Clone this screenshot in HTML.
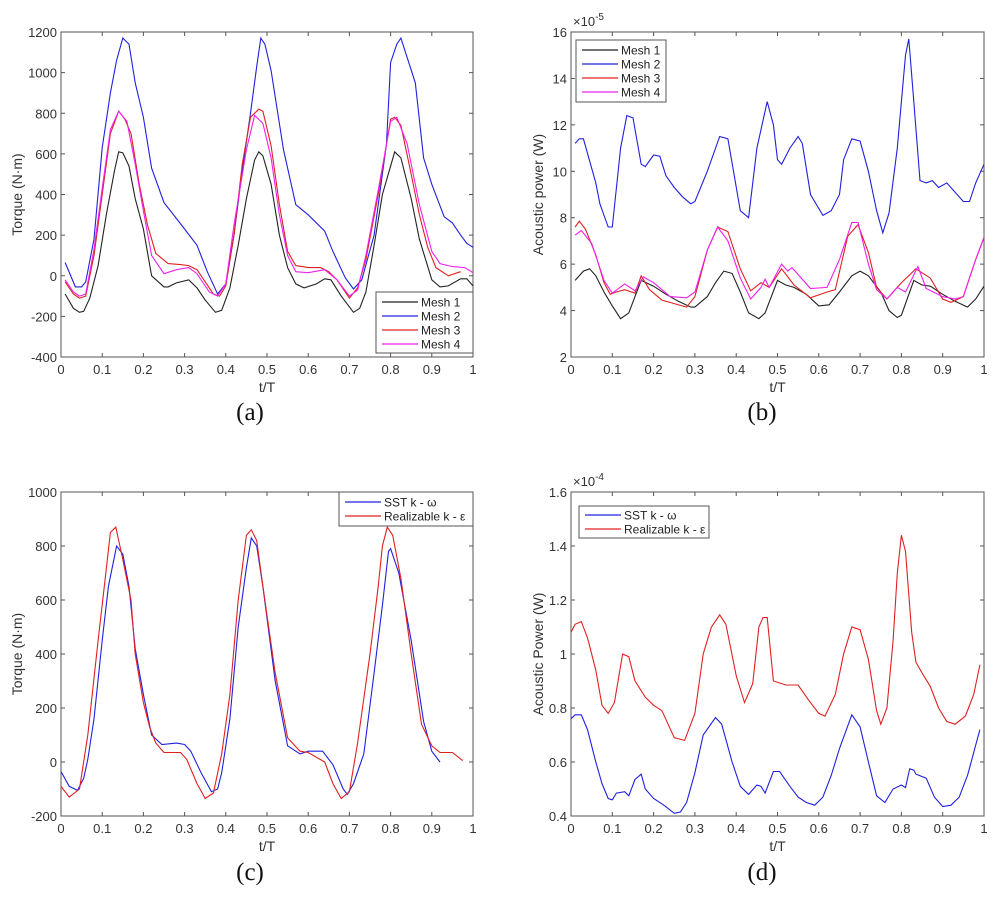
<!DOCTYPE html>
<html><head><meta charset="utf-8"><style>
html,body{margin:0;padding:0;background:#fff;}
svg{display:block;font-family:"Liberation Sans",sans-serif;}
</style></head><body>
<svg id="fig" width="996" height="900" viewBox="0 0 996 900"></svg>
<script>
// ---- data (a) torque, mesh study ----
const aX1=[0.01,0.03,0.045,0.055,0.07,0.09,0.11,0.13,0.14,0.15,0.165,0.18,0.2,0.22,0.25,0.26,0.28,0.31,0.33,0.35,0.375,0.39,0.41,0.43,0.45,0.47,0.48,0.49,0.51,0.53,0.55,0.57,0.59,0.62,0.64,0.655,0.68,0.71,0.725,0.74,0.76,0.78,0.81,0.825,0.85,0.87,0.9,0.92,0.94,0.97,0.985,1.0];
const aY1=[-90,-160,-180,-175,-110,50,300,520,610,605,540,380,230,0,-55,-55,-35,-20,-60,-120,-180,-170,-60,150,380,570,610,590,450,200,40,-40,-60,-40,-15,-20,-100,-180,-160,-80,150,400,610,580,380,180,-20,-55,-50,-15,-15,-50];
const aX2=[0.01,0.035,0.05,0.06,0.08,0.1,0.12,0.135,0.15,0.165,0.18,0.2,0.22,0.25,0.3,0.33,0.355,0.38,0.4,0.42,0.44,0.46,0.475,0.485,0.495,0.51,0.54,0.57,0.6,0.64,0.66,0.69,0.71,0.73,0.76,0.79,0.8,0.815,0.825,0.86,0.88,0.9,0.93,0.95,0.97,0.985,1.0];
const aY2=[65,-55,-55,-30,180,630,900,1060,1170,1140,950,780,530,360,230,150,20,-90,-40,200,520,800,1030,1170,1140,1010,620,350,300,220,120,-10,-65,-20,200,650,1050,1140,1170,950,580,450,290,260,200,160,140];
const aX3=[0.01,0.03,0.045,0.06,0.08,0.1,0.12,0.14,0.155,0.17,0.19,0.21,0.23,0.26,0.29,0.31,0.33,0.35,0.37,0.385,0.4,0.42,0.44,0.46,0.48,0.49,0.51,0.53,0.55,0.57,0.6,0.63,0.65,0.67,0.7,0.72,0.74,0.77,0.8,0.81,0.825,0.85,0.87,0.89,0.91,0.94,0.97];
const aY3=[-30,-90,-110,-100,100,400,700,810,770,700,450,250,110,60,55,50,30,-30,-90,-100,-50,200,550,780,820,810,640,350,120,50,40,40,20,-20,-110,-60,80,400,770,780,740,500,300,140,40,0,20];
const aX4=[0.01,0.03,0.045,0.06,0.08,0.1,0.12,0.14,0.16,0.18,0.2,0.22,0.25,0.28,0.31,0.33,0.36,0.38,0.4,0.42,0.45,0.47,0.49,0.51,0.53,0.55,0.57,0.6,0.64,0.67,0.7,0.72,0.74,0.77,0.8,0.815,0.84,0.87,0.9,0.92,0.95,0.98,1.0];
const aY4=[-20,-80,-100,-90,130,430,720,810,760,550,320,100,10,30,40,10,-80,-100,-40,250,620,790,750,580,300,100,20,15,30,-20,-100,-70,100,420,760,780,650,350,120,60,45,40,15];
// ---- data (b) acoustic power, mesh study (x1e-5) ----
const bX1=[0.01,0.03,0.045,0.06,0.08,0.1,0.12,0.14,0.155,0.17,0.2,0.23,0.26,0.29,0.3,0.33,0.35,0.37,0.39,0.41,0.43,0.455,0.47,0.5,0.52,0.54,0.57,0.6,0.625,0.65,0.68,0.7,0.72,0.75,0.77,0.79,0.8,0.83,0.85,0.87,0.9,0.93,0.96,0.98,1.0];
const bY1=[5.3,5.7,5.8,5.5,4.8,4.2,3.65,3.9,4.6,5.3,5.05,4.7,4.4,4.15,4.15,4.6,5.2,5.7,5.6,4.8,3.9,3.65,3.9,5.3,5.1,5.0,4.7,4.2,4.25,4.8,5.5,5.7,5.5,4.8,4.0,3.7,3.8,5.3,5.1,5.05,4.7,4.4,4.15,4.5,5.05];
const bX2=[0.01,0.02,0.03,0.06,0.07,0.09,0.1,0.12,0.135,0.15,0.17,0.18,0.2,0.215,0.23,0.25,0.27,0.29,0.3,0.33,0.36,0.38,0.41,0.43,0.45,0.475,0.49,0.5,0.51,0.53,0.55,0.56,0.58,0.61,0.63,0.65,0.66,0.68,0.7,0.72,0.74,0.755,0.77,0.79,0.81,0.818,0.83,0.845,0.86,0.875,0.89,0.91,0.93,0.95,0.965,0.98,1.0];
const bY2=[11.2,11.4,11.4,9.5,8.6,7.6,7.6,11.0,12.4,12.3,10.3,10.2,10.7,10.65,9.8,9.3,8.9,8.6,8.7,10.0,11.5,11.4,8.3,8.0,11.0,13.0,12.0,10.5,10.3,11.0,11.5,11.2,9.0,8.1,8.3,9.0,10.5,11.4,11.3,10.0,8.3,7.35,8.2,11.0,15.0,15.7,13.0,9.6,9.5,9.6,9.3,9.5,9.1,8.7,8.7,9.5,10.3];
const bX3=[0.01,0.02,0.035,0.06,0.08,0.095,0.11,0.13,0.155,0.17,0.19,0.22,0.25,0.28,0.3,0.33,0.355,0.38,0.41,0.435,0.46,0.48,0.51,0.54,0.58,0.62,0.64,0.67,0.695,0.72,0.74,0.765,0.8,0.835,0.87,0.9,0.92,0.95,0.98,1.0];
const bY3=[7.6,7.85,7.5,6.4,5.2,4.7,4.8,4.9,4.75,5.5,4.9,4.45,4.3,4.15,4.6,6.6,7.6,7.4,5.8,4.85,5.2,5.0,5.8,5.1,4.55,4.8,4.9,7.2,7.7,6.5,5.0,4.5,5.2,5.8,5.4,4.5,4.35,4.6,6.2,7.15];
const bX4=[0.01,0.025,0.05,0.08,0.1,0.13,0.155,0.175,0.2,0.24,0.28,0.3,0.33,0.355,0.38,0.41,0.435,0.46,0.47,0.48,0.51,0.525,0.535,0.58,0.62,0.65,0.68,0.695,0.72,0.74,0.765,0.79,0.81,0.84,0.86,0.9,0.93,0.95,0.98,1.0];
const bY4=[7.25,7.45,6.9,5.3,4.75,5.15,4.85,5.45,5.2,4.6,4.55,4.8,6.6,7.6,7.0,5.4,4.5,5.0,5.35,5.0,6.0,5.7,5.85,4.95,5.0,6.2,7.8,7.8,6.0,4.9,4.5,5.0,4.8,5.9,4.95,4.6,4.5,4.6,6.2,7.15];
// ---- data (c) torque, turbulence models ----
const cX1=[0.0,0.02,0.04,0.055,0.065,0.08,0.1,0.115,0.135,0.15,0.165,0.18,0.2,0.22,0.245,0.28,0.3,0.315,0.34,0.365,0.38,0.39,0.41,0.43,0.45,0.462,0.475,0.49,0.52,0.55,0.58,0.6,0.635,0.66,0.685,0.695,0.71,0.735,0.76,0.78,0.795,0.8,0.82,0.85,0.88,0.9,0.92];
const cY1=[-35,-90,-105,-60,10,160,450,650,800,770,650,420,250,100,65,70,65,40,-40,-110,-100,-40,160,500,720,830,800,650,300,60,30,40,40,-10,-100,-120,-80,30,330,580,780,790,700,450,150,40,0];
const cX2=[0.0,0.02,0.045,0.065,0.09,0.105,0.12,0.133,0.15,0.17,0.18,0.2,0.215,0.23,0.25,0.29,0.305,0.33,0.35,0.37,0.39,0.41,0.43,0.45,0.462,0.475,0.49,0.52,0.55,0.58,0.6,0.64,0.66,0.68,0.7,0.72,0.75,0.77,0.78,0.792,0.805,0.825,0.85,0.875,0.9,0.92,0.95,0.975];
const cY2=[-90,-130,-100,100,450,650,850,870,750,600,400,220,130,70,35,35,10,-80,-135,-115,30,250,600,840,860,820,650,330,90,40,35,0,-80,-135,-110,70,400,650,800,870,840,680,400,140,60,35,35,5];
// ---- data (d) acoustic power, turbulence models (x1e-4) ----
const dX1=[0.0,0.01,0.025,0.04,0.06,0.075,0.09,0.1,0.11,0.13,0.14,0.155,0.17,0.18,0.2,0.225,0.25,0.265,0.28,0.3,0.32,0.35,0.365,0.39,0.41,0.43,0.45,0.46,0.47,0.49,0.505,0.53,0.55,0.57,0.59,0.61,0.63,0.65,0.68,0.7,0.72,0.74,0.76,0.78,0.8,0.81,0.82,0.83,0.835,0.86,0.88,0.9,0.92,0.94,0.96,0.99];
const dY1=[0.76,0.775,0.775,0.72,0.6,0.52,0.465,0.46,0.485,0.49,0.475,0.535,0.555,0.5,0.465,0.44,0.41,0.415,0.45,0.56,0.7,0.765,0.74,0.6,0.51,0.48,0.515,0.51,0.485,0.565,0.565,0.51,0.47,0.45,0.44,0.47,0.55,0.65,0.775,0.73,0.6,0.475,0.45,0.5,0.515,0.505,0.575,0.57,0.555,0.54,0.47,0.435,0.44,0.47,0.55,0.72];
const dX2=[0.0,0.01,0.025,0.04,0.06,0.075,0.09,0.105,0.125,0.14,0.155,0.18,0.2,0.22,0.25,0.275,0.3,0.32,0.34,0.36,0.375,0.4,0.42,0.44,0.455,0.465,0.475,0.49,0.52,0.55,0.575,0.6,0.615,0.64,0.66,0.68,0.7,0.72,0.74,0.75,0.765,0.78,0.79,0.8,0.81,0.825,0.835,0.85,0.87,0.89,0.91,0.93,0.955,0.975,0.99];
const dY2=[1.08,1.11,1.12,1.06,0.94,0.81,0.78,0.82,1.0,0.99,0.9,0.84,0.81,0.79,0.69,0.68,0.78,1.0,1.1,1.145,1.11,0.92,0.82,0.89,1.1,1.135,1.135,0.9,0.885,0.885,0.83,0.78,0.77,0.85,1.0,1.1,1.09,0.98,0.79,0.74,0.8,1.05,1.3,1.44,1.38,1.08,0.97,0.93,0.88,0.8,0.75,0.74,0.77,0.85,0.96];
// ---- tick labels ----
const xTicks=[0,0.1,0.2,0.3,0.4,0.5,0.6,0.7,0.8,0.9,1];
const xTickLabels=["0","0.1","0.2","0.3","0.4","0.5","0.6","0.7","0.8","0.9","1"];
const aTicks=[-400,-200,0,200,400,600,800,1000,1200];
const bTicks=[2,4,6,8,10,12,14,16];
const cTicks=[-200,0,200,400,600,800,1000];
const dTicks=[0.4,0.6,0.8,1,1.2,1.4,1.6];
const dTickLabels=["0.4","0.6","0.8","1","1.2","1.4","1.6"];

const NS="http://www.w3.org/2000/svg";
const svg=document.getElementById('fig');
function mk(tag,attrs,parent){const e=document.createElementNS(NS,tag);for(const k in attrs)e.setAttribute(k,attrs[k]);(parent||svg).appendChild(e);return e;}

function panel(p){
  const g=mk('g',{});
  
  
  const sx=v=>p.x0+(v-0)/(1-0)*(p.x1-p.x0);
  const sy=v=>p.y1-(v-p.ymin)/(p.ymax-p.ymin)*(p.y1-p.y0);
  const box=mk('rect',{x:p.x0,y:p.y0,width:p.x1-p.x0,height:p.y1-p.y0,fill:'#fff',stroke:'#555','stroke-width':1},g);
  
  
  xTicks.forEach((t,i)=>{
    const x=sx(t);
    mk('line',{x1:x,y1:p.y1,x2:x,y2:p.y1-4,stroke:'#555'},g);
    mk('line',{x1:x,y1:p.y0,x2:x,y2:p.y0+4,stroke:'#555'},g);
    const tl=mk('text',{x:x,y:p.y1+17,'font-size':13,fill:'#333','text-anchor':'middle'},g);
    tl.textContent=xTickLabels[i];
    
    
  });
  p.yt.forEach((t,i)=>{
    const y=sy(t);
    mk('line',{x1:p.x0,y1:y,x2:p.x0+4,y2:y,stroke:'#555'},g);
    mk('line',{x1:p.x1,y1:y,x2:p.x1-4,y2:y,stroke:'#555'},g);
    const tl=mk('text',{x:p.x0-4,y:y+5,'font-size':13,fill:'#333','text-anchor':'end'},g);
    tl.textContent=p.ytl?p.ytl[i]:String(t);
    
    
  });
  const xl=mk('text',{x:(p.x0+p.x1)/2,y:p.y1+35,'font-size':14,fill:'#333','text-anchor':'middle'},g);
  xl.textContent='t/T';
  
  
  const yx=p.ylx, yy=(p.y0+p.y1)/2;
  const yl=mk('text',{x:yx,y:yy,'font-size':14,fill:'#333','text-anchor':'middle',transform:`rotate(-90 ${yx} ${yy})`},g);
  yl.textContent=p.ylabel;
  
  
  if(p.exp){
    const ex=mk('text',{x:p.x0+2,y:p.y0-6,'font-size':13,fill:'#333'},g);
    ex.innerHTML='×10<tspan dy="-6" font-size="10">'+p.exp+'</tspan>';
    
    
  }
  p.series.forEach(s=>{
    const pts=s.xs.map((x,i)=>sx(x).toFixed(1)+','+sy(s.ys[i]).toFixed(1)).join(' ');
    const l=mk('polyline',{points:pts,fill:'none',stroke:s.c,'stroke-width':1.1},g);
    
    
  });
  const L=p.leg;
  const lg=mk('g',{},g);
  
  
  mk('rect',{x:L.x,y:L.y,width:L.w,height:L.h,fill:'#fff',stroke:'#555','stroke-width':1},lg);
  p.series.forEach((s,i)=>{
    const cy=L.y+L.pad+i*L.dy;
    mk('line',{x1:L.x+6,y1:cy,x2:L.x+6+L.lw,y2:cy,stroke:s.c,'stroke-width':1.2},lg);
    const t=mk('text',{x:L.x+9+L.lw,y:cy+4.5,'font-size':12,fill:'#222'},lg);
    t.textContent=s.label;
    
    
  });
  const cap=mk('text',{x:p.capx,y:p.capy,'font-size':25,fill:'#111','text-anchor':'middle','font-family':'"Liberation Serif",serif'},g);
  cap.textContent=p.cap;
  
  
}
const BK='#222', BL='#2020e0', RD='#e02020', MG='#ee20ee';
panel({name:'chart-a',x0:61,x1:473,y0:32,y1:357,ymin:-400,ymax:1200,yt:aTicks,ylx:22,ylabel:'Torque (N·m)',cap:'(a)',capx:250,capy:420,
  leg:{x:376,y:292,w:97,h:61,pad:10,dy:14,lw:36},
  series:[{xs:aX1,ys:aY1,c:BK,label:'Mesh 1'},{xs:aX2,ys:aY2,c:BL,label:'Mesh 2'},{xs:aX3,ys:aY3,c:RD,label:'Mesh 3'},{xs:aX4,ys:aY4,c:MG,label:'Mesh 4'}]});
panel({name:'chart-b',x0:571,x1:984,y0:32,y1:357,ymin:2,ymax:16,yt:bTicks,ylx:543,ylabel:'Acoustic power (W)',exp:'-5',cap:'(b)',capx:762,capy:420,
  leg:{x:576,y:40,w:90,h:62,pad:10,dy:14,lw:36},
  series:[{xs:bX1,ys:bY1,c:BK,label:'Mesh 1'},{xs:bX2,ys:bY2,c:BL,label:'Mesh 2'},{xs:bX3,ys:bY3,c:RD,label:'Mesh 3'},{xs:bX4,ys:bY4,c:MG,label:'Mesh 4'}]});
panel({name:'chart-c',x0:61,x1:473,y0:492,y1:816,ymin:-200,ymax:1000,yt:cTicks,ylx:22,ylabel:'Torque (N·m)',cap:'(c)',capx:250,capy:880,
  leg:{x:339,y:492,w:134,h:34,pad:10,dy:14,lw:36},
  series:[{xs:cX1,ys:cY1,c:BL,label:'SST k - ω'},{xs:cX2,ys:cY2,c:RD,label:'Realizable k - ε'}]});
panel({name:'chart-d',x0:571,x1:984,y0:492,y1:816,ymin:0.4,ymax:1.6,yt:dTicks,ytl:dTickLabels,ylx:543,ylabel:'Acoustic Power (W)',exp:'-4',cap:'(d)',capx:762,capy:880,
  leg:{x:579,y:506,w:130,h:32,pad:9,dy:14,lw:36},
  series:[{xs:dX1,ys:dY1,c:BL,label:'SST k - ω'},{xs:dX2,ys:dY2,c:RD,label:'Realizable k - ε'}]});
</script>
</body></html>
